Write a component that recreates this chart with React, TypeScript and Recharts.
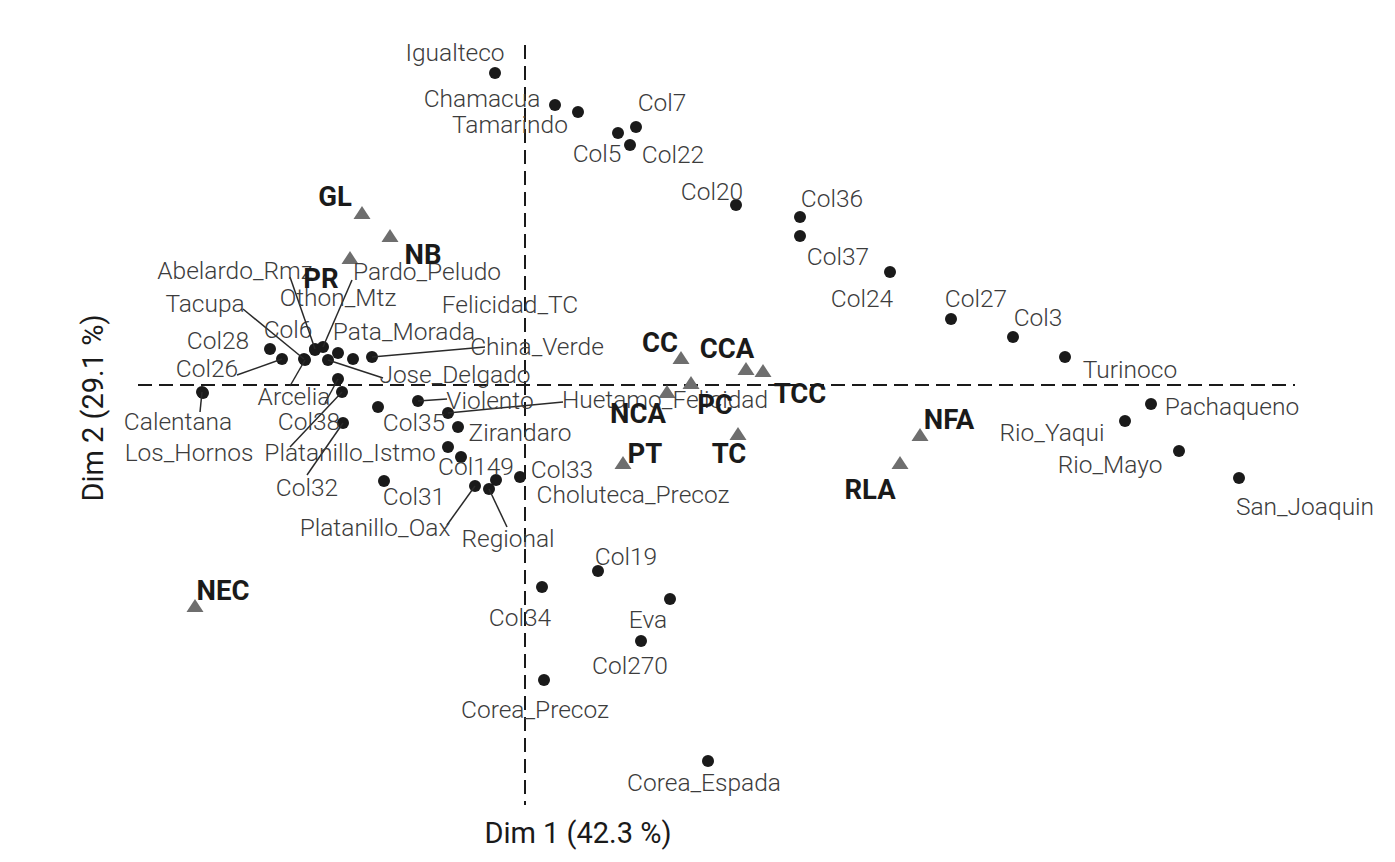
import React from 'react';
import { ScatterChart, Scatter, XAxis, YAxis, ReferenceLine } from 'recharts';

// individuals (black dots)
const indNames = [
  'Igualteco', 'Chamacua', 'Tamarindo', 'Col7', 'Col5', 'Col22', 'Col20', 'Col36', 'Col37', 'Col24',
  'Col27', 'Col3', 'Turinoco', 'Pachaqueno', 'Rio_Yaqui', 'Rio_Mayo', 'San_Joaquin', 'Col19', 'Eva', 'Col270',
  'Col34', 'Corea_Precoz', 'Corea_Espada', 'Col33', 'Choluteca_Precoz', 'Regional', 'Platanillo_Oax', 'Col149', 'Felicidad_TC', 'Zirandaro',
  'Huetamo_Felicidad', 'Violento', 'Col35', 'Col31', 'Col32', 'Platanillo_Istmo', 'Col38', 'Calentana', 'Los_Hornos', 'Col28',
  'Col26', 'Tacupa', 'Arcelia', 'Col6', 'Abelardo_Rmz', 'Pardo_Peludo', 'Jose_Delgado', 'Othon_Mtz', 'Pata_Morada', 'China_Verde',
];
const indDim1 = [
  -0.15, 0.15, 0.265, 0.555, 0.465, 0.525, 1.055, 1.375, 1.375, 1.825,
  2.13, 2.44, 2.7, 3.13, 3.0, 3.27, 3.57, 0.365, 0.725, 0.58,
  0.085, 0.095, 0.915, -0.025, -0.145, -0.18, -0.25, -0.385, -0.32, -0.335,
  -0.385, -0.535, -0.735, -0.705, -0.91, -0.915, -0.935, -1.615, -1.61, -1.275,
  -1.215, -1.105, -1.1, -1.05, -1.05, -1.01, -0.985, -0.935, -0.86, -0.765,
];
const indDim2 = [
  1.56, 1.4, 1.365, 1.29, 1.26, 1.2, 0.9, 0.84, 0.745, 0.565,
  0.33, 0.24, 0.14, -0.095, -0.18, -0.33, -0.465, -0.93, -1.07, -1.28,
  -1.01, -1.475, -1.88, -0.46, -0.475, -0.52, -0.505, -0.31, -0.36, -0.21,
  -0.14, -0.08, -0.11, -0.48, -0.19, -0.035, 0.03, -0.035, -0.04, 0.18,
  0.13, 0.13, 0.125, 0.175, 0.18, 0.19, 0.125, 0.16, 0.13, 0.14,
];

// supplementary categories (grey triangles)
const supNames = ['GL', 'NB', 'PR', 'NEC', 'CC', 'CCA', 'TCC', 'PC', 'NCA', 'TC', 'PT', 'NFA', 'RLA'];
const supDim1 = [-0.815, -0.675, -0.875, -1.65, 0.78, 1.105, 1.19, 0.83, 0.71, 1.065, 0.49, 1.975, 1.875];
const supDim2 = [0.86, 0.745, 0.635, -1.105, 0.135, 0.08, 0.07, 0.01, -0.035, -0.245, -0.39, -0.25, -0.39];

const axisX = 'Dim 1 (42.3 %)';
const axisY = 'Dim 2 (29.1 %)';

// repelled label placement in px: [dx, dy, segment end dx, segment end dy]
const labelPos: Record<string, number[]> = {
  Igualteco: [-40, -21], Chamacua: [-73, -7], Tamarindo: [-68, 12], Col7: [26, -25], Col5: [-21, 20],
  Col22: [43, 9], Col20: [-24, -14], Col36: [32, -19], Col37: [38, 20], Col24: [-28, 26],
  Col27: [25, -21], Col3: [25, -20], Turinoco: [65, 12], Pachaqueno: [81, 2], Rio_Yaqui: [-73, 11],
  Rio_Mayo: [-69, 13], San_Joaquin: [66, 28], Col19: [28, -15], Eva: [-22, 20], Col270: [-11, 24],
  Col34: [-22, 30], Corea_Precoz: [-9, 29], Corea_Espada: [-4, 21], Col33: [42, -8], Choluteca_Precoz: [137, 14],
  Regional: [19, 49, 18, 38], Platanillo_Oax: [-100, 41, -28, 39], Col149: [28, 19], Felicidad_TC: [49, -153],
  Zirandaro: [62, 5], Huetamo_Felicidad: [217, -14, 115, -11], Violento: [72, -1, 29, -2], Col35: [36, 15],
  Col31: [30, 15], Col32: [-36, 64, -36, 52], Platanillo_Istmo: [8, 60, -52, 55], Col38: [-29, 42, -13, 24],
  Calentana: [-24, 29, -2, 20], Los_Hornos: [-14, 59], Col28: [-52, -9], Col26: [-75, 9, -45, 16],
  Tacupa: [-99, -56, -61, -50], Arcelia: [-11, 36, -15, 26], Col6: [-27, -21], Abelardo_Rmz: [-80, -79, -25, -72],
  Pardo_Peludo: [104, -76, 29, -67], Jose_Delgado: [127, 14, 55, 18], Othon_Mtz: [0, -56], Pata_Morada: [51, -28],
  China_Verde: [165, -11, 113, -10],
  GL: [-27, -17], NB: [33, 18], PR: [-29, 20], NEC: [28, -16], CC: [-21, -16], CCA: [-19, -21],
  TCC: [37, 22], PC: [24, 21], NCA: [-29, 21], TC: [-9, 19], PT: [22, -10], NFA: [29, -16], RLA: [-30, 26],
};

const indData = indNames.map((name, i) => ({ name, x: indDim1[i], y: indDim2[i] }));
const supData = supNames.map((name, i) => ({ name, x: supDim1[i], y: supDim2[i] }));

const FONT = 'Roboto, sans-serif';

const Dot = (props: any) => <circle cx={props.cx} cy={props.cy} r={6} fill="#1a1a1a" />;

const Tri = (props: any) => {
  const { cx, cy } = props;
  return <path d={`M${cx},${cy - 7} L${cx + 8.5},${cy + 6} L${cx - 8.5},${cy + 6} Z`} fill="#6e6e6e" />;
};

const makeLabel = (bold: boolean) => (props: any) => {
  const { cx, cy, payload } = props;
  const p = labelPos[payload.name] || [0, -20];
  return (
    <g>
      {p.length > 2 && (
        <line x1={cx} y1={cy} x2={cx + p[2]} y2={cy + p[3]} stroke="#2a2a2a" strokeWidth={1.5} />
      )}
      <text
        x={cx + p[0]}
        y={cy + p[1]}
        textAnchor="middle"
        dominantBaseline="central"
        fontFamily={FONT}
        fontSize={bold ? 27.5 : 24.5}
        fontWeight={bold ? 700 : 300}
        fill={bold ? '#1a1a1a' : '#3c3c3c'}
      >
        {payload.name}
      </text>
    </g>
  );
};

const IndLabel = makeLabel(false);
const SupLabel = makeLabel(true);

export default function App() {
  return (
    <div style={{ position: 'absolute', left: 0, top: 0, width: 1395, height: 862, background: '#fff' }}>
      <ScatterChart width={1395} height={862} margin={{ top: 0, right: 0, bottom: 0, left: 0 }}>
        <XAxis type="number" dataKey="x" domain={[-2.625, 4.35]} allowDataOverflow hide />
        <YAxis type="number" dataKey="y" domain={[-2.385, 1.925]} allowDataOverflow hide />
        <ReferenceLine
          segment={[{ x: 0, y: 1.7 }, { x: 0, y: -2.1 }]}
          stroke="#1a1a1a"
          strokeWidth={2}
          strokeDasharray="14 7"
        />
        <ReferenceLine
          segment={[{ x: -1.935, y: 0 }, { x: 3.85, y: 0 }]}
          stroke="#1a1a1a"
          strokeWidth={2}
          strokeDasharray="14 7"
        />
        <Scatter data={indData} shape={Dot} isAnimationActive={false} />
        <Scatter data={supData} shape={Tri} isAnimationActive={false} />
        <Scatter data={indData} shape={IndLabel} isAnimationActive={false} />
        <Scatter data={supData} shape={SupLabel} isAnimationActive={false} />
      </ScatterChart>
      <div
        style={{
          position: 'absolute', left: 578, top: 833, transform: 'translate(-50%, -50%)',
          fontFamily: FONT, fontSize: 29, color: '#1a1a1a', whiteSpace: 'nowrap',
        }}
      >
        {axisX}
      </div>
      <div
        style={{
          position: 'absolute', left: 93, top: 408, transform: 'translate(-50%, -50%) rotate(-90deg)',
          fontFamily: FONT, fontSize: 29, color: '#1a1a1a', whiteSpace: 'nowrap',
        }}
      >
        {axisY}
      </div>
    </div>
  );
}
